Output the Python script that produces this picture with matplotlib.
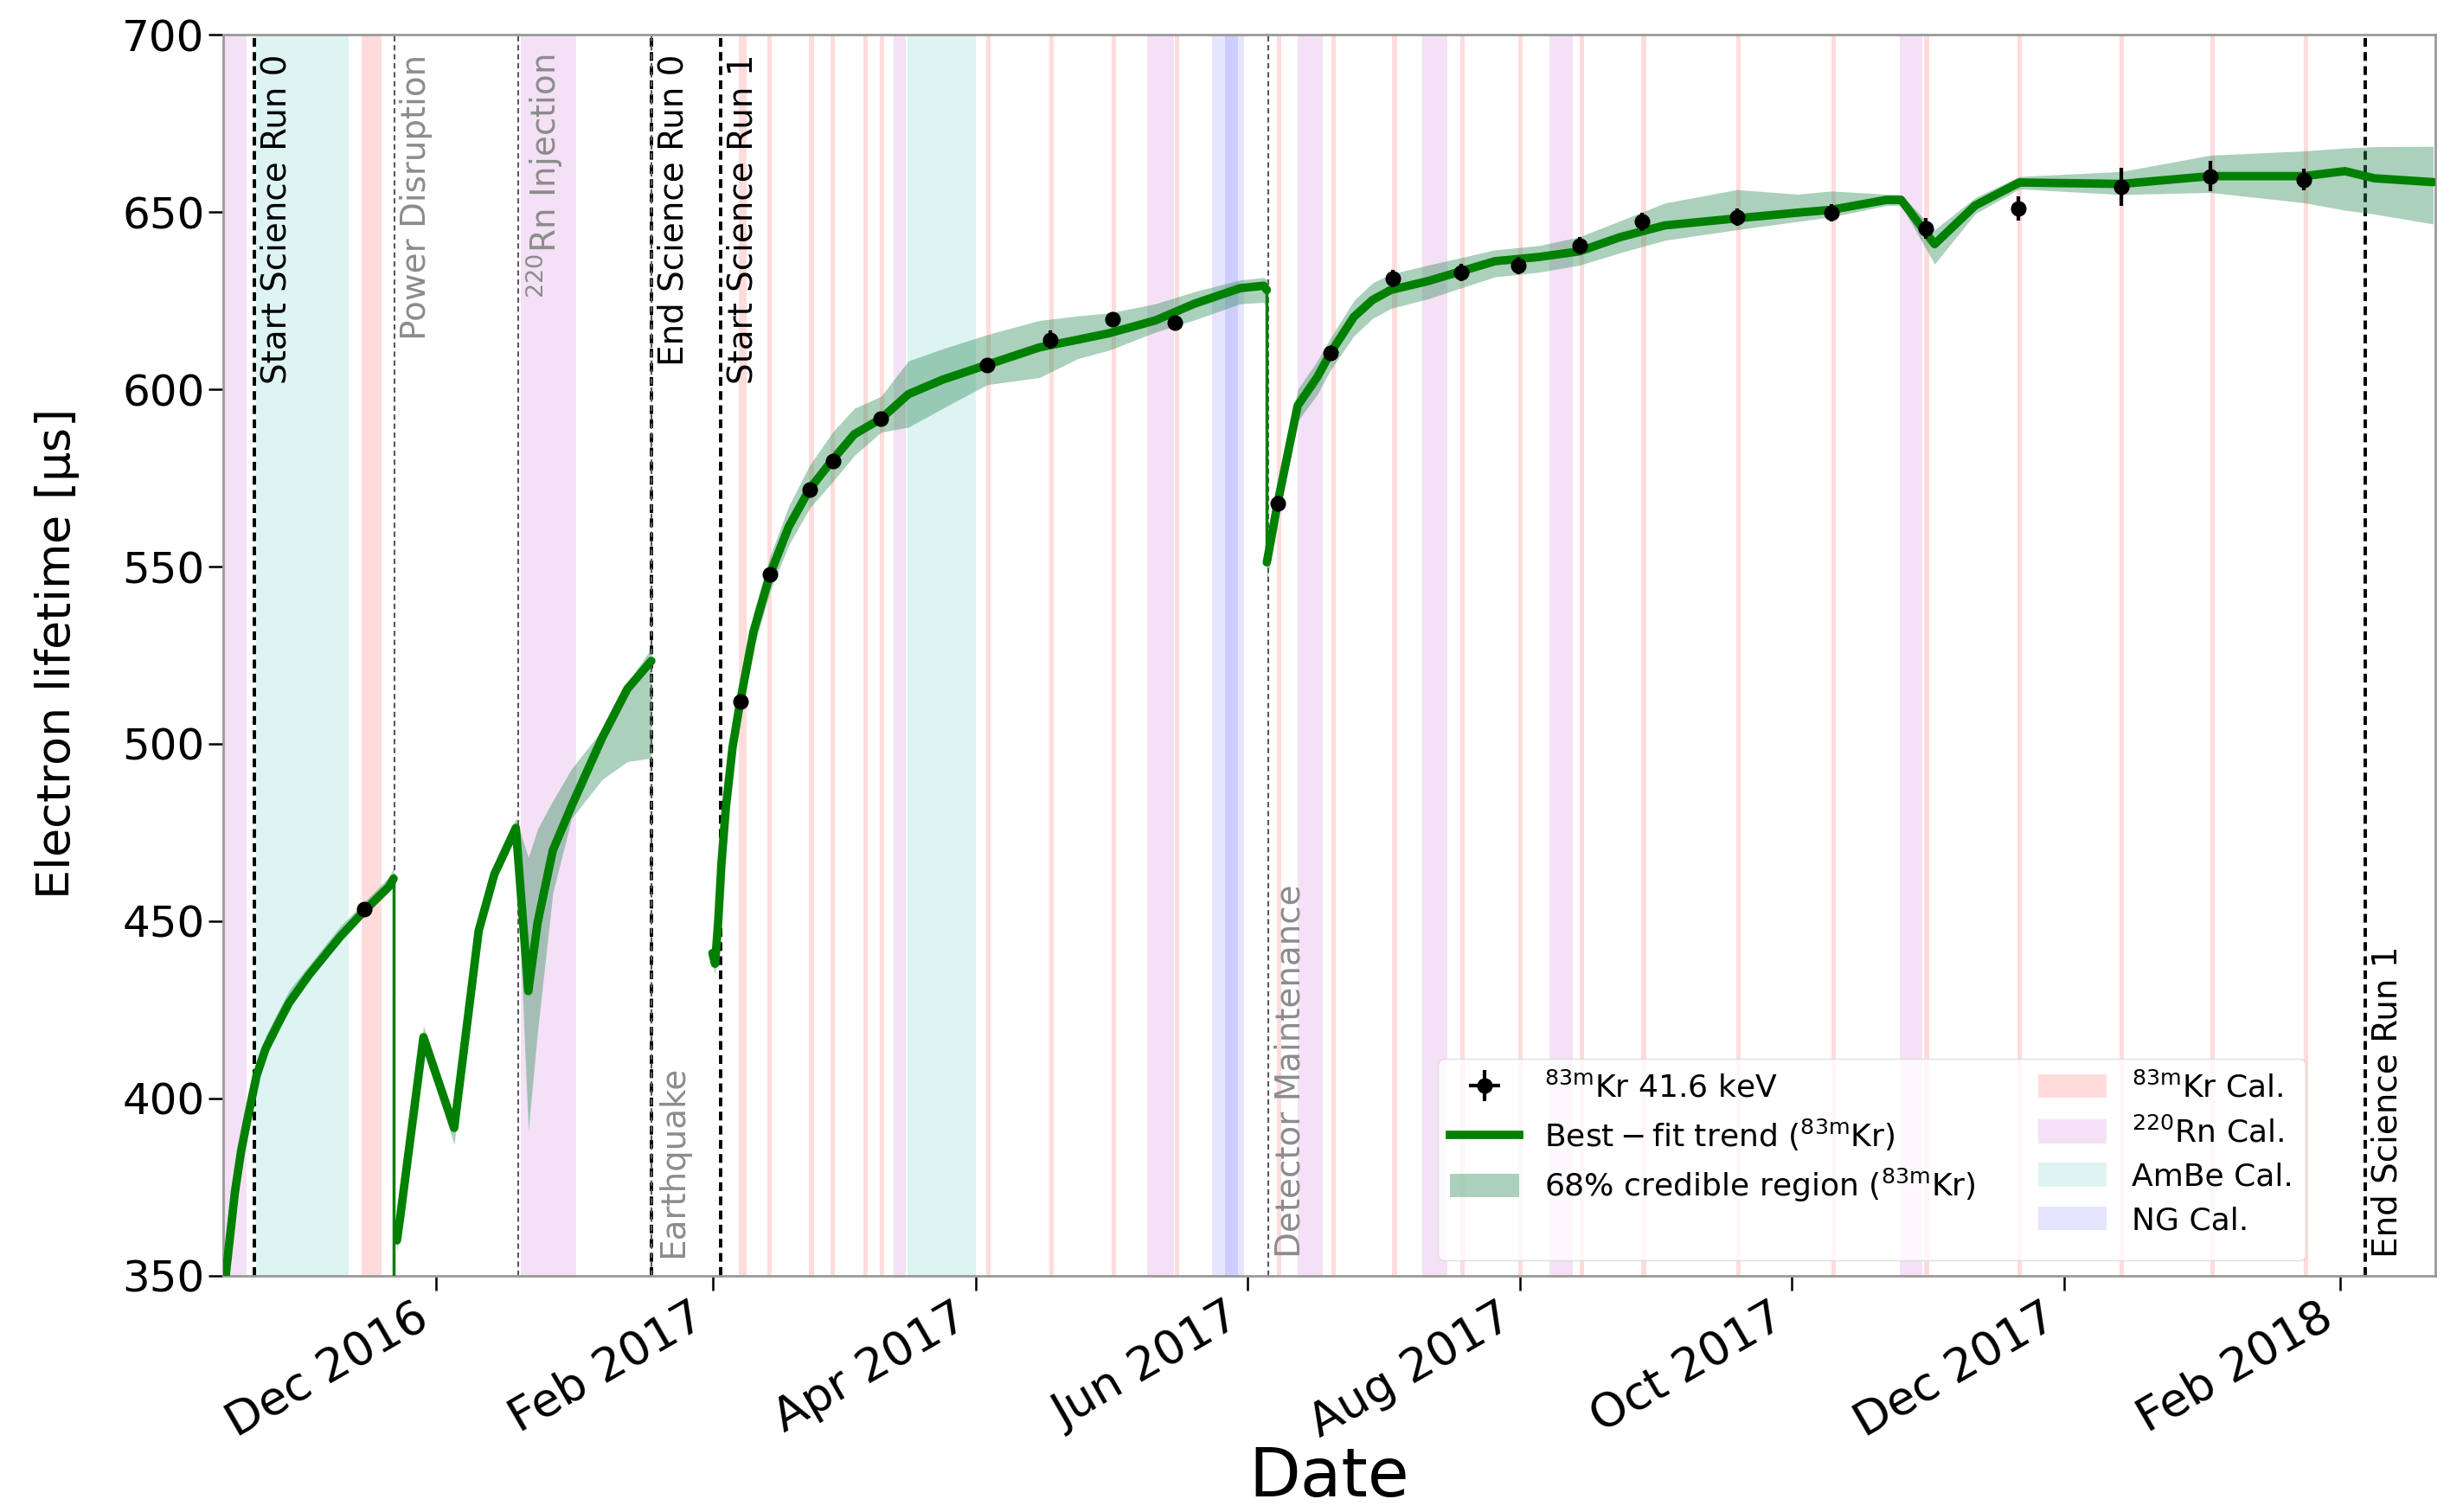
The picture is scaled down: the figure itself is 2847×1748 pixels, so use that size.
import numpy as np
import pandas as pd
import matplotlib
matplotlib.use('Agg')
import matplotlib.pyplot as plt
import matplotlib.dates as mdates
from matplotlib.patches import Patch
from matplotlib.lines import Line2D


# 83mKr 41.6 keV measurements
kr_dates = ['2016-11-15T00', '2017-02-07T05', '2017-02-13T22', '2017-02-22T19', '2017-02-28T00',
            '2017-03-10T19', '2017-04-03T14', '2017-04-17T19', '2017-05-01T19', '2017-05-15T14',
            '2017-06-07T17', '2017-06-19T14', '2017-07-03T14', '2017-07-18T22', '2017-07-31T14',
            '2017-08-14T10', '2017-08-28T12', '2017-09-18T17', '2017-10-09T19', '2017-10-31T00',
            '2017-11-20T17', '2017-12-13T22', '2018-01-02T19', '2018-01-23T19']
kr_vals = [453.5, 511.9, 547.8, 571.6, 579.7,
           591.7, 606.9, 614.0, 619.8, 618.7,
           567.9, 610.3, 631.3, 632.9, 634.9,
           640.5, 647.2, 648.6, 649.8, 645.4,
           651.0, 657.1, 660.1, 659.1]
kr_err = [1.5, 2.0, 2.0, 2.0, 2.0,
          2.0, 2.0, 2.5, 2.0, 2.0,
          2.0, 2.0, 2.4, 2.4, 2.5,
          2.5, 2.5, 2.5, 2.5, 3.0,
          3.4, 5.4, 4.2, 3.0]

# best-fit trend and 68% band, piece by piece
seg1_dates = ['2016-10-14T12', '2016-10-16T22', '2016-10-18T07', '2016-10-19T17', '2016-10-21T19',
              '2016-10-23T19', '2016-10-26T14', '2016-10-29T02', '2016-11-02T12', '2016-11-09T12',
              '2016-11-15T00', '2016-11-20T12', '2016-11-21T12']
seg1_vals = [346, 373.5, 385, 394, 406.5, 414, 421, 427, 434.8, 445.6, 453, 459.8, 462]
seg1_lo = [343, 371, 383, 392, 404.5, 412, 419.5, 425.5, 433.5, 444.5, 452, 458.5, 460.5]
seg1_hi = [349, 377, 389, 397.5, 410, 417.5, 424.5, 430.5, 437.5, 448.5, 455.5, 462.5, 465]

seg2_dates = ['2016-11-22T06', '2016-11-23T00', '2016-11-28T05', '2016-12-05T02', '2016-12-10T14',
              '2016-12-14T02', '2016-12-18T22', '2016-12-21T17', '2016-12-23T19', '2016-12-27T05',
              '2016-12-31T10', '2017-01-07T07', '2017-01-12T22', '2017-01-18T07']
seg2_vals = [360, 366.7, 417.3, 391.7, 447.3, 463.2, 476.3, 430.3, 449.6, 470, 482.5, 501.8, 515.5, 523.4]
seg2_lo = [357, 364, 415, 387, 445, 461, 474, 391, 419, 458, 479, 490, 495, 496]
seg2_hi = [363, 369.5, 420.5, 393, 449, 465, 479, 468, 476, 484, 493, 504, 517, 527]

seg3_dates = ['2017-02-01T00', '2017-02-01T14', '2017-02-02T07', '2017-02-03T00', '2017-02-04T00',
              '2017-02-05T12', '2017-02-07T05', '2017-02-10T05', '2017-02-13T22', '2017-02-18T02',
              '2017-02-22T19', '2017-02-28T00', '2017-03-04T19', '2017-03-10T19', '2017-03-16T22',
              '2017-03-24T14', '2017-04-03T14', '2017-04-15T07', '2017-04-24T00', '2017-04-30T22',
              '2017-05-11T07', '2017-05-20T00', '2017-05-30T07', '2017-06-04T14', '2017-06-05T07']
seg3_vals = [441, 438, 450, 466, 482,
             499, 511.9, 531.7, 547.8, 561.2,
             571.9, 580.2, 587.3, 591.7, 598.6,
             602.7, 606.9, 611.8, 614, 615.8,
             619.4, 624.1, 628.5, 629.2, 628]
seg3_lo = [438, 435, 446, 462, 478,
           495, 508, 527, 543, 556,
           566.5, 574, 581.3, 587.9, 589.3,
           594.6, 601.3, 603.3, 608.7, 611,
           616.1, 619.5, 624.1, 624.5, 623]
seg3_hi = [444, 441, 454, 470, 486,
           503, 516, 537, 553, 567,
           578.6, 588, 594.6, 598, 608,
           611.4, 615.4, 619.4, 620.7, 621.5,
           624.1, 627.5, 630.8, 631.5, 631]

seg4_dates = ['2017-06-05T07', '2017-06-07T17', '2017-06-12T05', '2017-06-16T14', '2017-06-19T14',
              '2017-06-24T19', '2017-06-29T00', '2017-07-03T02', '2017-07-11T10', '2017-07-26T10',
              '2017-08-05T07', '2017-08-14T10', '2017-08-23T12', '2017-09-02T12', '2017-09-18T17',
              '2017-10-02T07', '2017-10-09T19', '2017-10-22T05', '2017-10-25T12', '2017-11-02T00',
              '2017-11-11T02', '2017-11-21T00', '2017-12-13T22', '2018-01-02T19', '2018-01-23T19',
              '2018-02-02T00', '2018-02-08T14', '2018-02-21T19']
seg4_vals = [551.2, 567.9, 595.4, 603.4, 610.3,
             620.4, 625.2, 628, 630.5, 636.1,
             637.3, 638.9, 642.9, 646.2, 648.2,
             649.8, 650.6, 653.4, 653.4, 640.9,
             651.8, 658.3, 657.9, 660.1, 660.1,
             661.5, 659.5, 658.4]
seg4_lo = [546, 563, 591, 598.5, 605.5,
           615, 620, 622.8, 625.5, 631.7,
           633, 635, 638.5, 642, 645,
           647.3, 648.6, 651.8, 651.9, 635.3,
           649.5, 656.5, 654.9, 655.5, 652.6,
           650.5, 649.4, 646.6]
seg4_hi = [555, 572, 600, 608, 614.5,
           625, 630, 632.5, 635, 639.3,
           640.5, 643, 647.5, 652.5, 656.3,
           655, 655.9, 655, 654.9, 645,
           654, 660, 661.4, 666, 667.2,
           668, 668.4, 668.5]

# sudden drops of the trend
drop_dates = ['2016-11-21T12', '2017-06-05T07']
drop_top = [462, 629]
drop_bottom = [340, 551]

# calibration periods
kr_cal_start = ['2016-11-14T08', '2017-02-06T22', '2017-02-13T08', '2017-02-22T17', '2017-02-27T10',
                '2017-03-06T19', '2017-03-10T12', '2017-04-03T07', '2017-04-17T12', '2017-05-01T12',
                '2017-05-15T17', '2017-06-07T14', '2017-06-19T19', '2017-07-03T10', '2017-07-18T14',
                '2017-07-31T14', '2017-08-14T10', '2017-08-28T07', '2017-09-18T12', '2017-10-09T19',
                '2017-10-30T17', '2017-11-20T12', '2017-12-13T12', '2018-01-02T19', '2018-01-23T19']
kr_cal_end = ['2016-11-18T20', '2017-02-08T14', '2017-02-14T08', '2017-02-23T17', '2017-02-28T10',
              '2017-03-07T19', '2017-03-11T12', '2017-04-04T07', '2017-04-18T12', '2017-05-02T12',
              '2017-05-16T17', '2017-06-08T14', '2017-06-20T19', '2017-07-04T10', '2017-07-19T14',
              '2017-08-01T14', '2017-08-15T10', '2017-08-29T07', '2017-09-19T12', '2017-10-10T19',
              '2017-10-31T17', '2017-11-21T12', '2017-12-14T12', '2018-01-03T19', '2018-01-24T19']
rn_cal_start = ['2016-10-13T00', '2016-12-20T00', '2017-03-13T17', '2017-05-09T12',
                '2017-06-12T07', '2017-07-10T05', '2017-08-07T14', '2017-10-25T07']
rn_cal_end = ['2016-10-19T12', '2017-01-01T10', '2017-03-16T07', '2017-05-15T12',
              '2017-06-17T19', '2017-07-15T17', '2017-08-12T19', '2017-10-30T07']
ambe_start = ['2016-10-21T17', '2017-03-16T19']
ambe_end = ['2016-11-11T12', '2017-04-01T00']
ng_start = ['2017-05-24T02', '2017-05-27T00']
ng_end = ['2017-05-31T05', '2017-05-29T20']

# science runs and detector events
run_dates = ['2016-10-21T07', '2017-01-18T07', '2017-02-02T19', '2018-02-06T14']
run_labels = ['Start Science Run 0', 'End Science Run 0', 'Start Science Run 1', 'End Science Run 1']
run_top = [True, True, True, False]
event_dates = ['2016-11-21T16', '2016-12-19T10', '2017-01-18T07', '2017-06-05T14']
event_labels = ['Power Disruption', r'$^{220}$Rn Injection', 'Earthquake', 'Detector Maintenance']
event_top = [True, True, False, False]


def to_num(dates):
    return mdates.date2num(pd.to_datetime(dates))


fig = plt.figure(figsize=(28.47, 17.48), dpi=100)
ax = fig.add_axes([0.0906, 0.1562, 0.8982, 0.8209])

kr_color = '#ffdcdc'
rn_color = '#f4e1f6'
ambe_color = '#ddf4f2'
for s, e in zip(to_num(kr_cal_start), to_num(kr_cal_end)):
    ax.axvspan(s, e, color=kr_color, lw=0, zorder=0)
for s, e in zip(to_num(rn_cal_start), to_num(rn_cal_end)):
    ax.axvspan(s, e, color=rn_color, lw=0, zorder=0)
for s, e in zip(to_num(ambe_start), to_num(ambe_end)):
    ax.axvspan(s, e, color=ambe_color, lw=0, zorder=0)
for s, e in zip(to_num(ng_start), to_num(ng_end)):
    ax.axvspan(s, e, color='blue', alpha=0.1, lw=0, zorder=0)

# run boundaries / events
for d, lab, top in zip(to_num(run_dates), run_labels, run_top):
    ax.axvline(d, color='k', lw=2.8, ls=(0, (2.6, 1.6)), zorder=1)
    if top:
        ax.text(d + 1.3, 694.5, lab, rotation=90, ha='left', va='top', fontsize=28, color='k')
    else:
        ax.text(d + 1.3, 355, lab, rotation=90, ha='left', va='bottom', fontsize=28, color='k')
for d, lab, top in zip(to_num(event_dates), event_labels, event_top):
    ax.axvline(d, color='0.35', lw=1.5, ls=(0, (3, 2)), zorder=1)
    if top:
        ax.text(d + 1.3, 694.5, lab, rotation=90, ha='left', va='top', fontsize=28, color='0.55')
    else:
        ax.text(d + 1.3, 355, lab, rotation=90, ha='left', va='bottom', fontsize=28, color='0.55')

segments = [(seg1_dates, seg1_vals, seg1_lo, seg1_hi),
            (seg2_dates, seg2_vals, seg2_lo, seg2_hi),
            (seg3_dates, seg3_vals, seg3_lo, seg3_hi),
            (seg4_dates, seg4_vals, seg4_lo, seg4_hi)]
for t, y, lo, hi in segments:
    t = to_num(t)
    ax.fill_between(t, lo, hi, color='seagreen', alpha=0.4, lw=0, zorder=2)
    ax.plot(t, y, color='green', lw=7, zorder=3, solid_joinstyle='round', solid_capstyle='round')
ax.vlines(to_num(drop_dates), drop_bottom, drop_top, color='green', lw=2.5, zorder=3)

pts = ax.errorbar(to_num(kr_dates), kr_vals, yerr=kr_err, xerr=0.5, fmt='o', color='k',
                  ms=12, elinewidth=3, capsize=0, zorder=4)

ax.set_xlim(to_num(['2016-10-14T07'])[0], to_num(['2018-02-22T07'])[0])
ax.set_ylim(350, 700)
ax.set_yticks(np.arange(350, 701, 50))
ax.xaxis.set_major_locator(mdates.MonthLocator(bymonth=[2, 4, 6, 8, 10, 12]))
ax.xaxis.set_major_formatter(mdates.DateFormatter('%b %Y'))
ax.tick_params(axis='both', length=12, width=1.8, direction='out')
ax.tick_params(axis='y', labelsize=36)
ax.tick_params(axis='x', labelsize=39)
plt.setp(ax.get_xticklabels(), rotation=30, ha='right')
for sp in ax.spines.values():
    sp.set_color('0.6')
    sp.set_linewidth(2)

ax.set_ylabel(r'Electron lifetime [$\mathrm{\mu}$s]', fontsize=39)
ax.yaxis.set_label_coords(-0.064, 0.5)
ax.set_xlabel('Date', fontsize=56)
ax.xaxis.set_label_coords(0.5, -0.136)

# legend: first column 3 entries, second column 4
line_h = Line2D([], [], color='green', lw=7)
band_h = Patch(color='seagreen', alpha=0.4, lw=0)
blank = Line2D([], [], color='none')
handles = [pts, line_h, band_h, blank,
           Patch(color=kr_color, lw=0), Patch(color=rn_color, lw=0),
           Patch(color=ambe_color, lw=0), Patch(color='blue', alpha=0.1, lw=0)]
labels = [r'$^{83\mathrm{m}}$Kr 41.6 keV',
          r'$\mathrm{Best-fit\ trend}$ ($^{83\mathrm{m}}$Kr)',
          r'68% credible region ($^{83\mathrm{m}}$Kr)',
          '',
          r'$^{83\mathrm{m}}$Kr Cal.', r'$^{220}$Rn Cal.', 'AmBe Cal.', 'NG Cal.']
leg = ax.legend(handles, labels, ncol=2, loc='lower right', bbox_to_anchor=(0.9414, 0.0127),
                borderaxespad=0, fontsize=26, handlelength=2.2, handleheight=0.8,
                labelspacing=0.45, columnspacing=2.0, framealpha=0.8, edgecolor='0.85')
leg.set_zorder(5)

fig.savefig('out.png', dpi=100)
